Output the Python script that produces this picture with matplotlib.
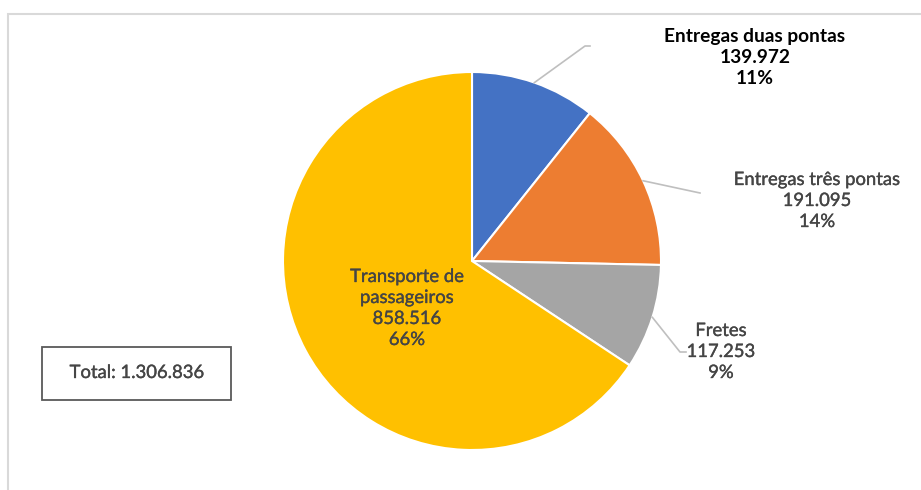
import numpy as np
import matplotlib.pyplot as plt
import matplotlib.patheffects as pe
from matplotlib.patches import Rectangle

# Data
categories = ['Entregas duas pontas', 'Entregas três pontas', 'Fretes', 'Transporte de\npassageiros']
values = [139972, 191095, 117253, 858516]
value_labels = ['139.972', '191.095', '117.253', '858.516']
pct_labels = ['11%', '14%', '9%', '66%']
total_label = 'Total: 1.306.836'
colors = ['#4472C4', '#ED7D31', '#A5A5A5', '#FFC000']

W, H = 921, 490
fig = plt.figure(figsize=(W / 100, H / 100), dpi=100)
ax = fig.add_axes([0, 0, 1, 1])

plt.rcParams['font.family'] = ['Lato', 'DejaVu Sans']
txt_col = '#454545'
fs = 13.3
# slightly heavier strokes for the regular-weight labels
thick = [pe.withStroke(linewidth=0.25, foreground=txt_col)]

# Outer chart frame
ax.add_patch(Rectangle((8, -10), W, H - 14 + 10, fill=False, ec='#d9d9d9', lw=1.5))

cx, cy, r = 472, H - 261, 189
wedges, _ = ax.pie(values, colors=colors, startangle=90, counterclock=False,
                   center=(cx, cy), radius=r, frame=True,
                   wedgeprops=dict(edgecolor='white', linewidth=1.5))
ax.set_xlim(0, W)
ax.set_ylim(0, H)
ax.set_aspect('equal')
ax.axis('off')

def edge_point(w, f=1.0):
    ang = np.deg2rad((w.theta1 + w.theta2) / 2)
    return cx + r * f * np.cos(ang), cy + r * f * np.sin(ang)

# Outside labels: (text centre x, top line y, leader path end points, bold)
outside = [
    (755, 37, [(585, 46), (590, 46)], True),
    (817, 180, [(700, 193)], False),
    (721, 331, [(680, 352), (686, 352)], False),
]
for i, (tx, ty, path, bold) in enumerate(outside):
    sx, sy = edge_point(wedges[i])
    xs = [sx] + [p[0] for p in path]
    ys = [sy] + [H - p[1] for p in path]
    ax.plot(xs, ys, color='#bfbfbf', lw=1.2)
    for j, line in enumerate([categories[i], value_labels[i], pct_labels[i]]):
        if bold:
            ax.text(tx, H - (ty + 21 * j), line, ha='center', va='center',
                    fontsize=fs + 0.5, color='black', fontweight='bold')
        else:
            ax.text(tx, H - (ty + 21 * j), line, ha='center', va='center',
                    fontsize=fs, color=txt_col, path_effects=thick)

# Label inside the largest slice
inside_lines = categories[3].split('\n') + [value_labels[3], pct_labels[3]]
for j, line in enumerate(inside_lines):
    ax.text(407, H - (277 + 21 * j), line, ha='center', va='center',
            fontsize=fs, color=txt_col, path_effects=thick)

# Total box
ax.add_patch(Rectangle((42, H - 400), 189, 53, fill=False, ec='#595959', lw=1.3))
ax.text(137, H - 373, total_label, ha='center', va='center', fontsize=fs,
        color=txt_col, path_effects=thick)

fig.savefig('out.png', dpi=100, facecolor='white')
